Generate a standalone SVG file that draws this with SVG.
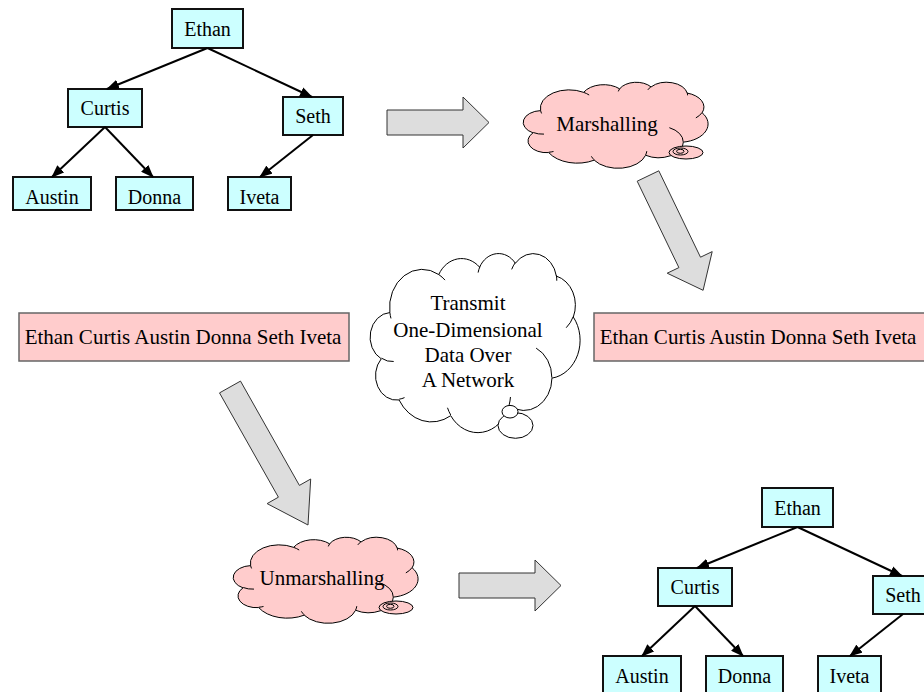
<svg xmlns="http://www.w3.org/2000/svg" xmlns:xlink="http://www.w3.org/1999/xlink" width="924" height="692" viewBox="0 0 924 692">
<style>
.node rect{fill:#ccffff;stroke:#111;stroke-width:2}
.node text{font-family:"Liberation Serif","Times New Roman",serif;font-size:20px;text-anchor:middle;fill:#000}
.edge{stroke:#000;stroke-width:2;fill:none;marker-end:url(#ah)}
.block{fill:#dddddd;stroke:#333;stroke-width:1}
.seq rect{fill:#ffcccc;stroke:#666;stroke-width:1.5}
.big{font-family:"Liberation Serif","Times New Roman",serif;font-size:21px;text-anchor:middle;fill:#000}
.cl{stroke:#000;stroke-width:1}
</style>
<defs>
<marker id="ah" markerWidth="13" markerHeight="10" refX="12" refY="5" orient="auto" markerUnits="userSpaceOnUse"><path d="M0,0 L13,5 L0,10 z" fill="#000"/></marker>
<path id="cloudOuter" vector-effect="non-scaling-stroke" d="M9.03,33.26 A15.63 21.27 0 0 1 32.42,12.04 A12.34 16.82 0 0 1 51.98,7.94 A10.10 13.76 0 0 1 69.06,5.74 A11.24 15.27 0 0 1 88.70,12.90 A12.34 16.84 0 0 1 96.80,35.78 A15.68 21.34 0 0 1 86.58,69.91 A13.39 18.21 0 0 1 66.10,85.21 A15.63 21.33 0 0 1 38.15,90.88 A17.87 24.41 0 0 1 13.43,82.10 A10.09 13.70 0 0 1 4.89,59.13 A10.06 13.76 0 0 1 9.03,33.26 Z"/>
<path id="cloudInner" vector-effect="non-scaling-stroke" fill="none" d="M10.86,60.60 A10.06 13.76 0 0 1 5.00,58.75 M16.04,80.78 A10.09 13.70 0 0 1 13.47,81.67 M38.14,90.49 A15.63 21.33 0 0 1 36.60,86.46 M66.73,80.44 A15.63 21.33 0 0 1 66.11,84.86 M79.00,53.13 A13.39 18.21 0 0 1 86.53,69.65 M96.76,35.54 A12.34 16.84 0 0 1 93.40,41.74 M88.71,12.56 A11.24 15.27 0 0 1 88.89,15.49 M67.31,9.15 A11.24 15.27 0 0 1 69.03,5.42 M51.25,10.93 A10.10 13.76 0 0 1 52.08,7.71 M32.41,12.02 A15.63 21.27 0 0 1 35.42,15.14 M9.55,36.55 A15.63 21.27 0 0 1 9.03,33.27"/>
</defs>

<!-- top tree nodes -->
<g id="t1-ethan" class="node"><rect x="172" y="9" width="71" height="39"/><text x="207.5" y="36">Ethan</text></g>
<g id="t1-curtis" class="node"><rect x="68" y="89" width="74" height="38"/><text x="105" y="115">Curtis</text></g>
<g id="t1-seth" class="node"><rect x="283" y="97" width="60" height="38"/><text x="313" y="123">Seth</text></g>
<g id="t1-austin" class="node"><rect x="13" y="177" width="78" height="33"/><text x="52" y="204">Austin</text></g>
<g id="t1-donna" class="node"><rect x="116" y="177" width="77" height="33"/><text x="154.5" y="204">Donna</text></g>
<g id="t1-iveta" class="node"><rect x="228" y="177" width="63" height="33"/><text x="259.5" y="204">Iveta</text></g>

<!-- bottom tree nodes -->
<g id="t2-ethan" class="node"><rect x="762" y="488" width="71" height="39"/><text x="797.5" y="515">Ethan</text></g>
<g id="t2-curtis" class="node"><rect x="658" y="568" width="74" height="38"/><text x="695" y="594">Curtis</text></g>
<g id="t2-seth" class="node"><rect x="873" y="576" width="60" height="38"/><text x="903" y="602">Seth</text></g>
<g id="t2-austin" class="node"><rect x="603" y="656" width="78" height="40"/><text x="642" y="683">Austin</text></g>
<g id="t2-donna" class="node"><rect x="706" y="656" width="77" height="40"/><text x="744.5" y="683">Donna</text></g>
<g id="t2-iveta" class="node"><rect x="818" y="656" width="63" height="40"/><text x="849.5" y="683">Iveta</text></g>

<!-- sequence boxes -->
<g id="seq-left" class="seq"><rect x="19" y="313" width="330" height="48"/><text class="big" x="183" y="344">Ethan Curtis Austin Donna Seth Iveta</text></g>
<g id="seq-right" class="seq"><rect x="594" y="313" width="332" height="48"/><text class="big" x="758" y="344">Ethan Curtis Austin Donna Seth Iveta</text></g>

<!-- clouds -->
<g id="cloud-marshalling">
<g transform="translate(524,82) scale(1.84,0.86)"><use href="#cloudOuter" fill="#ffcccc" class="cl"/><use href="#cloudInner" class="cl"/></g>
<ellipse cx="686" cy="152.5" rx="17" ry="6.5" fill="#ffcccc" class="cl"/>
<ellipse cx="680.5" cy="151.5" rx="7.5" ry="3.5" fill="#ffcccc" class="cl"/>
<ellipse cx="680.3" cy="151.3" rx="3.7" ry="2" fill="#ffcccc" class="cl"/>
<text class="big" x="607" y="131">Marshalling</text>
</g>
<g id="cloud-unmarshalling">
<g transform="translate(234,537) scale(1.84,0.86)"><use href="#cloudOuter" fill="#ffcccc" class="cl"/><use href="#cloudInner" class="cl"/></g>
<ellipse cx="396" cy="607.5" rx="17" ry="6.5" fill="#ffcccc" class="cl"/>
<ellipse cx="390.5" cy="606.5" rx="7.5" ry="3.5" fill="#ffcccc" class="cl"/>
<ellipse cx="390.3" cy="606.3" rx="3.7" ry="2" fill="#ffcccc" class="cl"/>
<text class="big" x="322" y="585">Unmarshalling</text>
</g>
<g id="cloud-transmit">
<g transform="translate(371,253) scale(2.09,1.79)"><use href="#cloudOuter" fill="#ffffff" class="cl"/><use href="#cloudInner" class="cl"/></g>
<ellipse cx="515.5" cy="425.5" rx="17.5" ry="12.8" fill="#ffffff" class="cl"/>
<ellipse cx="510" cy="411.7" rx="8" ry="6.3" fill="#ffffff" class="cl"/>
<text class="big" x="468" y="310">Transmit</text>
<text class="big" x="468" y="337">One-Dimensional</text>
<text class="big" x="468" y="362">Data Over</text>
<text class="big" x="468" y="387">A Network</text>
</g>

<!-- block arrows -->
<g id="arrow-right-1"><polygon class="block" points="387,110 463,110 463,97 489,122.5 463,148 463,135 387,135"/></g>
<g id="arrow-right-2"><polygon class="block" points="459,573 535,573 535,560 561,585.5 535,611 535,598 459,598"/></g>
<g id="arrow-diag-1"><polygon class="block" points="637.2,181.2 658.8,170.8 700.5,257.2 712.2,251.6 703.1,290.3 667.2,273.2 678.9,267.6"/></g>
<g id="arrow-diag-2"><polygon class="block" points="219.5,392.9 240.5,381.1 299.4,485.4 310.7,479 308,525 267.1,503.6 278.4,497.2"/></g>

<!-- connectors -->
<g id="connectors">
<line class="edge" x1="207.5" y1="48" x2="107" y2="89"/>
<line class="edge" x1="207.5" y1="48" x2="312" y2="97"/>
<line class="edge" x1="105" y1="127" x2="52" y2="177"/>
<line class="edge" x1="105" y1="127" x2="153" y2="177"/>
<line class="edge" x1="313" y1="135" x2="260" y2="177"/>
<line class="edge" x1="797.5" y1="527" x2="697" y2="568"/>
<line class="edge" x1="797.5" y1="527" x2="902" y2="576"/>
<line class="edge" x1="695" y1="606" x2="642" y2="656"/>
<line class="edge" x1="695" y1="606" x2="743" y2="656"/>
<line class="edge" x1="903" y1="614" x2="850" y2="656"/>
</g>
</svg>
